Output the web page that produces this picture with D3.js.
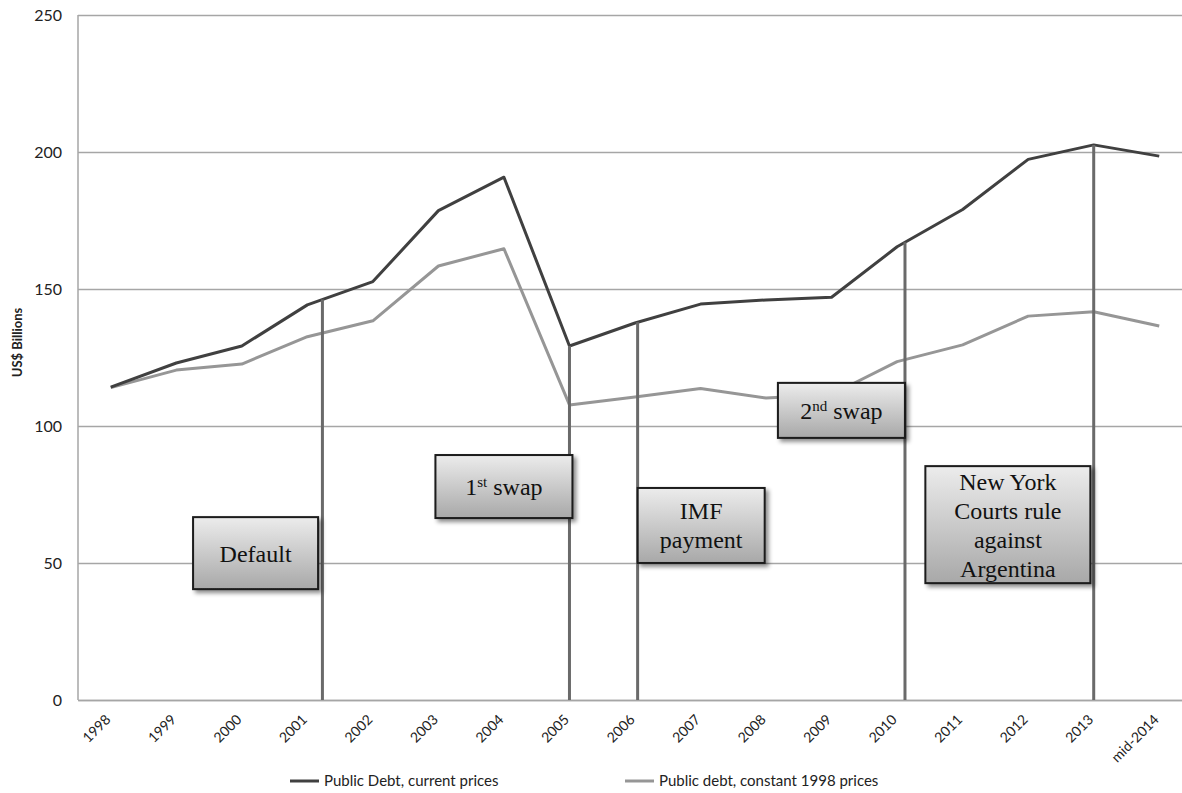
<!DOCTYPE html>
<html>
<head>
<meta charset="utf-8">
<script src="https://cdn.jsdelivr.net/npm/d3@7"></script>
<style>
  body { margin: 0; background: #fff; }
  text { font-family: Lato, "Open Sans", sans-serif; }
  .box text { font-family: "Liberation Serif", "Times New Roman", serif; }
</style>
</head>
<body>
<div id="chart"></div>
<script>
// Categories and series (US$ billions)
var years = ["1998","1999","2000","2001","2002","2003","2004","2005","2006",
             "2007","2008","2009","2010","2011","2012","2013","mid-2014"];
var currentPrices = [114.2,123,129.2,144.2,152.7,178.6,190.8,129.2,137.6,
                     144.5,146,147,165.4,179,197.3,202.6,198.5];
var constantPrices = [114,120.4,122.6,132.6,138.4,158.4,164.7,107.7,110.6,
                      113.7,110.2,111.5,123.5,129.6,140.1,141.7,136.5];
var yTicks = [0, 50, 100, 150, 200, 250];

// Events: where the marker falls (category index) and where the label box sits
var events = [
  {at: 3.23, lines: [["Default"]],                       bx: 2.21,  by: 53.6,  w: 125, h: 72},
  {at: 7,    lines: [["1", "st", " swap"]],             bx: 6.0,   by: 77.9,  w: 137, h: 63},
  {at: 8.04, lines: [["IMF"], ["payment"]],             bx: 9.01,  by: 63.7,  w: 127, h: 75},
  {at: 12.12,lines: [["2", "nd", " swap"]],             bx: 11.15, by: 105.7, w: 127, h: 55},
  {at: 15,   lines: [["New York"], ["Courts rule"], ["against"], ["Argentina"]],
                                                        bx: 13.69, by: 64,    w: 165, h: 117}
];

var margin = {top: 15, right: 0, bottom: 93, left: 78},
    W = 1182, H = 793,
    width = 1114,
    height = H - margin.top - margin.bottom;

var x = d3.scaleBand().domain(years).range([0, width]);
var step = x.step();
var xi = function(i) { return i * step + step / 2; };
var y = d3.scaleLinear().domain([0, 250]).range([height, 0]);

var svg = d3.select("#chart").append("svg")
    .attr("width", W).attr("height", H);

var defs = svg.append("defs");
var grad = defs.append("linearGradient").attr("id", "boxgrad")
    .attr("x1", 0).attr("y1", 0).attr("x2", 0).attr("y2", 1);
grad.append("stop").attr("offset", "0%").attr("stop-color", "#ececec");
grad.append("stop").attr("offset", "100%").attr("stop-color", "#a8a8a8");
defs.append("filter").attr("id", "shadow")
    .attr("x", "-20%").attr("y", "-20%").attr("width", "150%").attr("height", "150%")
  .append("feDropShadow")
    .attr("dx", 3).attr("dy", 3).attr("stdDeviation", 2)
    .attr("flood-color", "#000").attr("flood-opacity", 0.45);
defs.append("clipPath").attr("id", "clip")
  .append("rect").attr("x", -margin.left).attr("y", -10)
    .attr("width", W).attr("height", height + 20);

var g = svg.append("g")
    .attr("transform", "translate(" + margin.left + "," + margin.top + ")");

// Gridlines
g.append("g")
    .call(d3.axisLeft(y).tickValues(yTicks).tickSize(-width).tickFormat(""))
    .call(function(s) {
      s.select(".domain").remove();
      s.selectAll("line").attr("stroke", "#a6a6a6").attr("stroke-width", 1.5);
    });

// Y axis line and labels
g.append("line").attr("x1", 0).attr("x2", 0).attr("y1", 0).attr("y2", height)
    .attr("stroke", "#a6a6a6").attr("stroke-width", 1.5);
g.append("g")
    .call(d3.axisLeft(y).tickValues(yTicks).tickSize(0).tickPadding(16))
    .call(function(s) {
      s.select(".domain").remove();
      s.selectAll("text").style("font-size", "16px").attr("fill", "#222");
    });

g.append("text")
    .attr("transform", "rotate(-90)")
    .attr("x", -height / 2 + 15)
    .attr("y", -margin.left + 22)
    .attr("text-anchor", "middle")
    .style("font-size", "13px")
    .style("font-weight", "bold")
    .attr("fill", "#222")
    .text("US$ Billions");

// X axis
g.append("g")
    .attr("transform", "translate(0," + height + ")")
    .call(d3.axisBottom(x).tickSize(0))
    .call(function(s) {
      s.select(".domain").attr("stroke", "#a6a6a6").attr("stroke-width", 1.5);
      s.selectAll("text")
        .style("font-size", "14px")
        .attr("fill", "#222")
        .attr("text-anchor", "end")
        .attr("x", -14)
        .attr("y", 10)
        .attr("dy", "0.35em")
        .attr("transform", "rotate(-45)");
    });

// Series lines
var line = function(vals) {
  return d3.line()
    .x(function(d, i) { return xi(i); })
    .y(function(d) { return y(d); })(vals);
};
var plot = g.append("g").attr("clip-path", "url(#clip)");
plot.append("path").attr("d", line(constantPrices))
    .attr("fill", "none").attr("stroke", "#969696").attr("stroke-width", 3)
    .attr("stroke-linejoin", "round");
plot.append("path").attr("d", line(currentPrices))
    .attr("fill", "none").attr("stroke", "#404040").attr("stroke-width", 3)
    .attr("stroke-linejoin", "round");

// Event markers: vertical line from axis up to current-price line
function valueAt(pos) {
  var i0 = Math.floor(pos), i1 = Math.min(i0 + 1, currentPrices.length - 1);
  var t = pos - i0;
  return currentPrices[i0] * (1 - t) + currentPrices[i1] * t;
}
g.selectAll(".marker").data(events).enter().append("line")
    .attr("x1", function(d) { return xi(d.at); })
    .attr("x2", function(d) { return xi(d.at); })
    .attr("y1", height)
    .attr("y2", function(d) { return y(valueAt(d.at)); })
    .attr("stroke", "#6a6a6a").attr("stroke-width", 3);

// Label boxes
var box = g.selectAll(".box").data(events).enter().append("g")
    .attr("class", "box")
    .attr("transform", function(d) {
      return "translate(" + xi(d.bx) + "," + y(d.by) + ")";
    });
box.append("rect")
    .attr("x", function(d) { return -d.w / 2; })
    .attr("y", function(d) { return -d.h / 2; })
    .attr("width", function(d) { return d.w; })
    .attr("height", function(d) { return d.h; })
    .attr("fill", "url(#boxgrad)")
    .attr("stroke", "#1a1a1a").attr("stroke-width", 2)
    .attr("filter", "url(#shadow)");
box.each(function(d) {
  var lh = 29, n = d.lines.length;
  var t = d3.select(this);
  d.lines.forEach(function(parts, k) {
    var txt = t.append("text")
        .attr("text-anchor", "middle")
        .attr("y", (k - (n - 1) / 2) * lh)
        .attr("dy", "0.35em")
        .style("font-size", "24px")
        .attr("fill", "#111");
    if (parts.length === 1) {
      txt.text(parts[0]);
    } else {
      txt.append("tspan").text(parts[0]);
      txt.append("tspan").attr("baseline-shift", "super")
          .style("font-size", "15px").text(parts[1]);
      txt.append("tspan").text(parts[2]);
    }
  });
});

// Legend
var legend = [
  {name: "Public Debt, current prices", color: "#404040", x: 290},
  {name: "Public debt, constant 1998 prices", color: "#969696", x: 625}
];
var lg = svg.selectAll(".legend").data(legend).enter().append("g")
    .attr("transform", function(d) { return "translate(" + d.x + ",781)"; });
lg.append("line").attr("x1", 0).attr("x2", 29)
    .attr("stroke", function(d) { return d.color; }).attr("stroke-width", 3);
lg.append("text").attr("x", 34).attr("dy", "0.35em")
    .style("font-size", "15px").attr("fill", "#222")
    .text(function(d) { return d.name; });
</script>
</body>
</html>
